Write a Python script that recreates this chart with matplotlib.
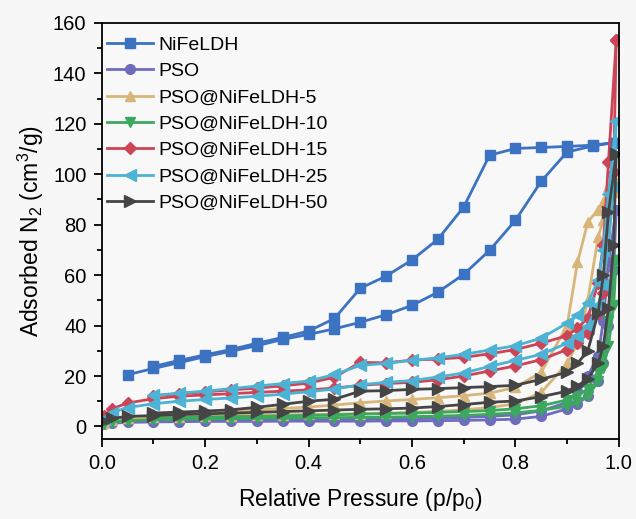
import matplotlib
matplotlib.use('Agg')
import matplotlib.pyplot as plt
from matplotlib.ticker import MultipleLocator

plt.rcParams['font.family'] = ['Liberation Sans', 'DejaVu Sans']
plt.rcParams['mathtext.fontset'] = 'custom'
plt.rcParams['mathtext.rm'] = 'Liberation Sans'
plt.rcParams['mathtext.it'] = 'Liberation Sans:italic'

# NiFeLDH has its own pressure points
nife_x_ads = [0.05, 0.10, 0.15, 0.20, 0.25, 0.30, 0.35, 0.40, 0.45, 0.50,
              0.55, 0.60, 0.65, 0.70, 0.75, 0.80, 0.85, 0.90, 0.95, 0.99]
nife_ads = [20.5, 23.0, 25.3, 27.7, 29.8, 32.0, 34.5, 36.5, 38.7, 41.3,
            44.3, 48.0, 53.2, 60.3, 69.8, 81.7, 97.2, 108.8, 111.2, 112.5]
nife_x_des = [0.95, 0.90, 0.85, 0.80, 0.75, 0.70, 0.65, 0.60, 0.55, 0.50,
              0.45, 0.40, 0.35, 0.30, 0.25, 0.20, 0.15, 0.10]
nife_des = [111.5, 111.0, 110.6, 110.2, 107.5, 87.0, 74.2, 66.0, 59.6, 54.8,
            42.8, 37.8, 35.3, 33.0, 30.5, 28.4, 26.2, 23.8]

# common pressure points for the PSO samples
x_ads = [0.005, 0.02, 0.05, 0.10, 0.15, 0.20, 0.25, 0.30, 0.35, 0.40, 0.45,
         0.50, 0.55, 0.60, 0.65, 0.70, 0.75, 0.80, 0.85, 0.90, 0.92, 0.94,
         0.96, 0.97, 0.98, 0.99, 0.995]
x_des = [0.98, 0.97, 0.96, 0.94, 0.92, 0.90, 0.85, 0.80, 0.75, 0.70, 0.65,
         0.60, 0.55, 0.50, 0.45, 0.40, 0.35, 0.30, 0.25, 0.20, 0.15, 0.10]

pso_ads = [0.8, 1.3, 1.6, 1.8, 1.9, 2.0, 2.0, 2.0, 2.1, 2.1, 2.1, 2.1, 2.2, 2.2,
           2.3, 2.4, 2.6, 2.9, 4.0, 7.0, 9.0, 12, 18, 25, 40, 62, 86]
pso_des = [65, 42, 28, 20, 14, 9.5, 6.2, 4.6, 4.0, 3.6, 3.3, 3.1, 3.0, 2.9,
           2.8, 2.7, 2.6, 2.6, 2.5, 2.4, 2.3, 2.2]

p5_ads = [1.5, 2.5, 3.2, 3.6, 3.9, 4.1, 4.3, 4.5, 4.6, 4.8, 4.9, 5.1, 5.3, 5.6,
          6.0, 6.6, 7.5, 9.0, 13.5, 25, 33, 50, 75, 82, 88, 93, 97]
p5_des = [95, 89, 86, 81, 65, 40, 21.5, 15.5, 13.2, 12.2, 11.4, 10.7, 10.1,
          9.4, 8.5, 7.7, 7.1, 6.6, 6.2, 5.8, 5.4, 5.0]

p10_ads = [1.0, 1.8, 2.3, 2.7, 2.9, 3.0, 3.1, 3.2, 3.3, 3.4, 3.5, 3.6, 3.7, 3.9,
           4.1, 4.4, 4.8, 5.4, 6.4, 8.0, 9.5, 12, 18, 23, 32, 48, 66]
p10_des = [42, 28, 22, 15, 12, 10.5, 8.2, 7.0, 6.3, 5.9, 5.6, 5.3, 5.1, 4.9,
           4.6, 4.4, 4.2, 4.0, 3.9, 3.7, 3.5, 3.3]

p15_ads = [4.0, 7.0, 9.3, 11, 12, 12.5, 13, 13.5, 14, 14.5, 15.2, 16.3, 17,
           17.5, 18.5, 20, 22, 24, 26.5, 30.5, 33, 37, 45, 53, 72, 101, 153]
p15_des = [105, 72, 57, 43, 39, 36, 33, 30.5, 28.8, 27.4, 26.7, 26.3, 25.2,
           25.4, 19.5, 17.2, 16.1, 15.2, 14.5, 13.7, 13.0, 12.2]

p25_ads = [3.0, 5.5, 7.5, 9.0, 10.0, 10.7, 11.3, 12.0, 12.8, 13.8, 14.8, 16.5,
           17.5, 18.2, 19.6, 21.2, 23.8, 26.2, 28.6, 33, 36, 40, 48, 56, 72,
           95, 121]
p25_des = [92, 70, 58, 49, 44, 41, 35, 32, 30.3, 28.6, 27.2, 26.2, 25.0, 24.2,
           20.6, 18.0, 17.0, 16.0, 15.0, 14.0, 13.2, 12.3]

p50_ads = [2.0, 3.2, 4.0, 4.3, 4.7, 5.0, 5.3, 5.6, 5.9, 6.2, 6.5, 6.8, 7.0,
           7.3, 7.9, 8.7, 9.6, 10.1, 11.8, 14.0, 16, 19, 25, 32, 47, 72, 108]
p50_des = [85, 60, 45, 30, 25, 21.5, 18.7, 16.3, 15.8, 15.4, 15.0, 14.7, 14.2,
           14.0, 10.8, 10.0, 8.8, 7.6, 6.6, 6.1, 5.7, 5.3]

labels = ['NiFeLDH', 'PSO', 'PSO@NiFeLDH-5', 'PSO@NiFeLDH-10',
          'PSO@NiFeLDH-15', 'PSO@NiFeLDH-25', 'PSO@NiFeLDH-50']
colors = ['#3b73c2', '#6d6cbd', '#d8b67a', '#3ca85e', '#cd4457', '#4cb3d4',
          '#454545']
markers = ['s', 'o', '^', 'v', 'D', '<', '>']
msizes = [7, 7, 7.5, 7.5, 6.5, 8, 8]

series = [
    (nife_x_ads, nife_ads, nife_x_des, nife_des),
    (x_ads, pso_ads, x_des, pso_des),
    (x_ads, p5_ads, x_des, p5_des),
    (x_ads, p10_ads, x_des, p10_des),
    (x_ads, p15_ads, x_des, p15_des),
    (x_ads, p25_ads, x_des, p25_des),
    (x_ads, p50_ads, x_des, p50_des),
]

fig = plt.figure(figsize=(6.36, 5.19), dpi=100, facecolor='#f7f7f7')
ax = fig.add_axes([0.160, 0.154, 0.813, 0.802])
ax.set_facecolor('#f8f8f8')

for (xa, ya, xd, yd), lab, c, m, ms in zip(series, labels, colors, markers, msizes):
    ax.plot(xa, ya, color=c, marker=m, ms=ms, lw=2.0, label=lab)
    # desorption branch starts from the last adsorption point
    ax.plot([xa[-1]] + xd, [ya[-1]] + yd, color=c, marker=m, ms=ms, lw=2.0)

ax.set_xlim(0, 1.0)
ax.set_ylim(-5, 160)
ax.xaxis.set_major_locator(MultipleLocator(0.2))
ax.xaxis.set_minor_locator(MultipleLocator(0.1))
ax.yaxis.set_major_locator(MultipleLocator(20))
ax.yaxis.set_minor_locator(MultipleLocator(10))
ax.tick_params(which='both', direction='out', top=False, right=False,
               width=1.3, labelsize=14.5, colors='black')
ax.tick_params(which='major', length=6, pad=5)
ax.tick_params(which='minor', length=3.5)
for sp in ax.spines.values():
    sp.set_linewidth(1.3)

ax.set_xlabel('Relative Pressure (p/p$_0$)', fontsize=16.5, labelpad=9)
ax.set_ylabel('Adsorbed N$_2$ (cm$^3$/g)', fontsize=16.5, labelpad=5)

ax.legend(loc='upper left', bbox_to_anchor=(0.0, 0.98), frameon=False,
          fontsize=14, handlelength=2.4, handletextpad=0.25,
          labelspacing=0.45, borderaxespad=0.0, borderpad=0.25)

fig.savefig('out.png', dpi=100, facecolor=fig.get_facecolor())
